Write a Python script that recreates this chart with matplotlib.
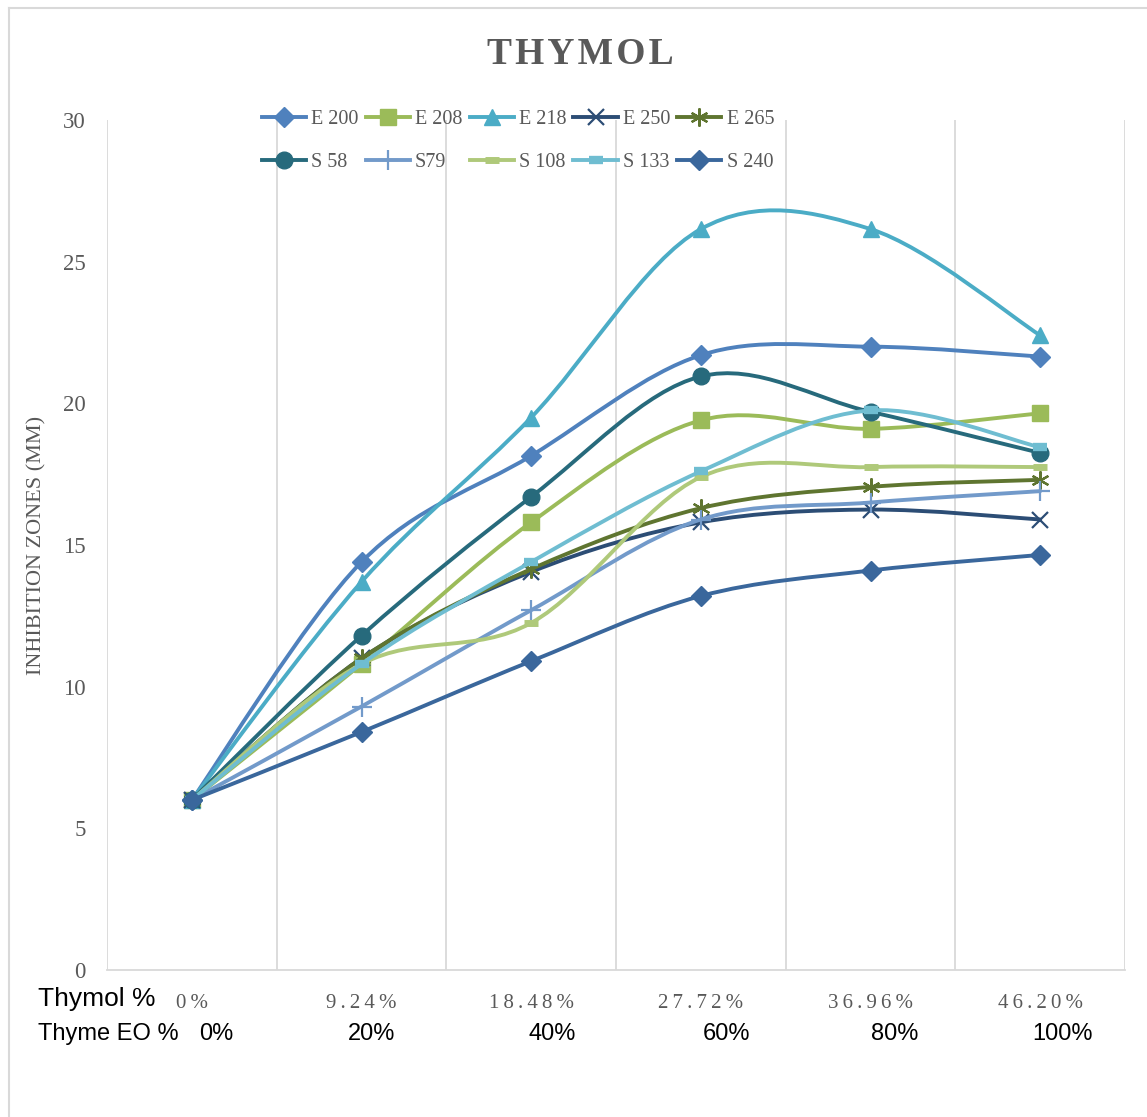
import numpy as np
import matplotlib
matplotlib.use("Agg")
import matplotlib.pyplot as plt
from matplotlib.path import Path
from matplotlib.patches import PathPatch
from matplotlib.lines import Line2D

# data
thymol_pct = ["0%", "9.24%", "18.48%", "27.72%", "36.96%", "46.20%"]
thyme_eo_pct = ["0%", "20%", "40%", "60%", "80%", "100%"]

e200 = [6.0, 14.4, 18.15, 21.7, 22.0, 21.65]
e208 = [6.0, 10.8, 15.8, 19.4, 19.1, 19.65]
e218 = [6.0, 13.7, 19.5, 26.15, 26.15, 22.4]
e250 = [6.0, 11.0, 14.05, 15.8, 16.25, 15.9]
e265 = [6.0, 11.0, 14.15, 16.3, 17.05, 17.3]
s58 = [6.0, 11.8, 16.7, 20.95, 19.7, 18.25]
s79 = [6.0, 9.3, 12.7, 15.9, 16.5, 16.9]
s108 = [6.0, 10.8, 12.25, 17.4, 17.75, 17.75]
s133 = [6.0, 10.8, 14.4, 17.6, 19.75, 18.45]
s240 = [6.0, 8.4, 10.9, 13.2, 14.1, 14.65]

names = ["E 200", "E 208", "E 218", "E 250", "E 265",
         "S 58", "S79", "S 108", "S 133", "S 240"]
series = [e200, e208, e218, e250, e265, s58, s79, s108, s133, s240]
colors = ["#4F81BD", "#9BBB59", "#4BACC6", "#2C4D75", "#5F7530",
          "#276A7C", "#729ACA", "#AFC97A", "#6FBDD1", "#3A679C"]
# marker, size, edge width
markers = [("D", 10, 1), ("s", 11, 1), ("^", 11, 1), ("x", 11, 1.6), ((6, 2, 0), 13, 1.6),
           ("o", 12, 1), ("+", 14, 1.6), ("_", 10, 5), ("_", 10, 6), ("D", 10, 1)]

GRAY = "#595959"
GRID = "#D9D9D9"
W, H = 1147, 1117
SERIF = ["Liberation Serif", "DejaVu Serif"]


def smooth_path(xs, ys):
    # excel style smoothed line: cubic bezier through the points
    pts = np.column_stack([xs, ys]).astype(float)
    n = len(pts)
    verts = [pts[0]]
    codes = [Path.MOVETO]
    for i in range(n - 1):
        p0 = pts[max(i - 1, 0)]
        p1 = pts[i]
        p2 = pts[i + 1]
        p3 = pts[min(i + 2, n - 1)]
        verts += [p1 + (p2 - p0) / 6, p2 - (p3 - p1) / 6, p2]
        codes += [Path.CURVE4] * 3
    return Path(verts, codes)


fig = plt.figure(figsize=(W / 100, H / 100), dpi=100)
ax = fig.add_axes([107 / W, 1 - 970 / H, (1125 - 107) / W, (970 - 120) / H])

x = np.arange(len(thymol_pct))
for i, (name, vals, c, (m, ms, mew)) in enumerate(zip(names, series, colors, markers)):
    ax.add_patch(PathPatch(smooth_path(x, vals), fill=False, edgecolor=c, lw=2.8,
                           capstyle="round", zorder=3 + i))
    ax.plot(x, vals, linestyle="none", marker=m, markersize=ms, color=c,
            markeredgecolor=c, markeredgewidth=mew, zorder=3 + i)

ax.set_xlim(-0.5, len(x) - 0.5)
ax.set_ylim(0, 30)
ax.set_yticks(range(0, 31, 5))
for k in range(len(x) + 1):
    ax.axvline(k - 0.5, color=GRID, lw=1.3, zorder=1)
for s in ["top", "right", "left"]:
    ax.spines[s].set_visible(False)
ax.spines["bottom"].set_color(GRID)
ax.spines["bottom"].set_linewidth(1.3)
ax.tick_params(length=0)
ax.tick_params(axis="y", pad=15.5, labelsize=16.5, labelcolor=GRAY)
ax.tick_params(axis="x", pad=17, labelsize=15, labelcolor=GRAY)
for lab in ax.get_yticklabels():
    lab.set_family(SERIF)
ax.set_xticks(x)
ax.set_xticklabels(["\u2009".join(t) for t in thymol_pct], family=SERIF)

fig.text(37 / W, 1 - 545 / H, "INHIBITION ZONES (MM)", rotation=90, ha="center",
         va="center", fontsize=16, color=GRAY, family=SERIF)
fig.text(580 / W, 1 - 55 / H, "\u200a".join("THYMOL"), ha="center", va="center",
         fontsize=27, fontweight="bold", color=GRAY, family=SERIF)

# extra axis captions
fig.text(38 / W, 1 - 999 / H, "Thymol %", ha="left", va="center", fontsize=19,
         color="black", family="Liberation Sans")
fig.text(38 / W, 1 - 1034 / H, "Thyme EO %", ha="left", va="center", fontsize=17,
         color="black", family="Liberation Sans")
eo_x = [216, 372, 552, 727, 895, 1063]
for xp, t in zip(eo_x, thyme_eo_pct):
    fig.text(xp / W, 1 - 1034 / H, t, ha="center", va="center", fontsize=17,
             color="black", family="Liberation Sans")

# chart frame
fig.add_artist(Line2D([9 / W, 1], [1 - 8 / H, 1 - 8 / H], color=GRID, lw=1.5))
fig.add_artist(Line2D([9 / W, 9 / W], [0, 1 - 8 / H], color=GRID, lw=1.5))

# legend, filled row by row
handles = []
for c, (m, ms, mew) in zip(colors, markers):
    handles.append(Line2D([], [], color=c, lw=2.8, marker=m, markersize=ms,
                          markeredgecolor=c, markeredgewidth=mew))
order = [0, 5, 1, 6, 2, 7, 3, 8, 4, 9]
leg = fig.legend([handles[i] for i in order], [names[i] for i in order], ncol=5,
                 loc="upper left", bbox_to_anchor=(262 / W, 1 - 110 / H), frameon=False,
                 handlelength=2.2, handletextpad=0.25, columnspacing=0.35,
                 labelspacing=1.2, borderpad=0, borderaxespad=0,
                 prop={"family": SERIF, "size": 14.5})
for t in leg.get_texts():
    t.set_color(GRAY)

fig.savefig("out.png", dpi=100, facecolor="white")
